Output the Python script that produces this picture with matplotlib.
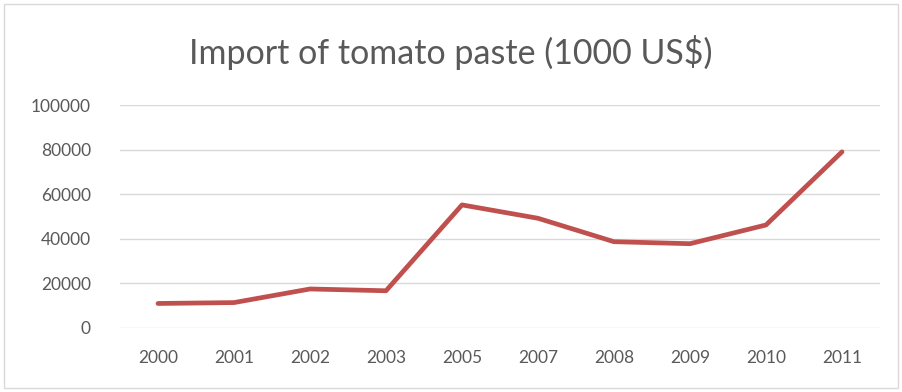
import matplotlib
matplotlib.use("Agg")
import matplotlib.pyplot as plt
from matplotlib.patches import Rectangle

years = ["2000", "2001", "2002", "2003", "2005", "2007", "2008", "2009", "2010", "2011"]
imports = [11000, 11400, 17500, 16700, 55200, 49200, 38700, 37800, 46200, 79000]
yticks = [0, 20000, 40000, 60000, 80000, 100000]

plt.rcParams['font.family'] = ['Lato', 'DejaVu Sans']

fig = plt.figure(figsize=(9.02, 3.92), dpi=100)
ax = fig.add_axes([120 / 902, 1 - 328 / 392, 760 / 902, 223 / 392])

x = range(len(years))
ax.plot(x, imports, color='#C0504D', lw=3.4, solid_joinstyle='round', solid_capstyle='round', zorder=3)

ax.set_xlim(-0.5, len(years) - 0.5)
ax.set_ylim(0, 100000)
ax.set_xticks(list(x))
ax.set_xticklabels(years)
ax.set_yticks(yticks)
ax.set_yticklabels([str(v) for v in yticks])
ax.grid(axis='y', color='#D9D9D9', lw=1)
ax.set_axisbelow(True)
for s in ax.spines.values():
    s.set_visible(False)
ax.tick_params(length=0, colors='#595959', labelsize=12.5)
ax.tick_params(axis='x', pad=16)
ax.tick_params(axis='y', pad=21)

fig.text(0.5, 1 - 52 / 392, "Import of tomato paste (1000 US$)", ha='center', va='center',
         fontsize=24.5, color='#595959')

# chart border
fig.patches.append(Rectangle((4 / 902, 4 / 392), 894 / 902, 384 / 392, transform=fig.transFigure,
                             fill=False, edgecolor='#D9D9D9', lw=1))

fig.savefig("out.png", dpi=100)
